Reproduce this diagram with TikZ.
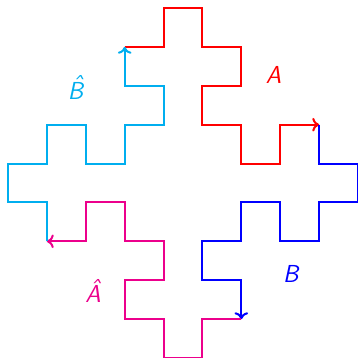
\documentclass[tikz,border=0pt]{standalone}
\usetikzlibrary{arrows.meta}
\definecolor{crvRed}{HTML}{FF0000}
\definecolor{crvBlue}{HTML}{0000FF}
\definecolor{crvMagenta}{HTML}{EC008C}
\definecolor{crvCyan}{HTML}{00AEEF}
\tikzset{
  crv/.style={-{To[length=5pt,width=10pt]}, line width=1.47pt, line join=miter},
  lbl/.style={anchor=base, inner sep=0pt, font=\fontsize{18}{20}\selectfont\sffamily\itshape},
}
\newcommand{\hatchar}[1]{\accent"02C6 #1}

\begin{document}
\begin{tikzpicture}
        \useasboundingbox (-0.206,0.206) rectangle (9,-9);
        % corner points where the four pieces meet
        \coordinate (pA) at (3,-1);
        \coordinate (pB) at (8,-3);
        \coordinate (pC) at (6,-8);
        \coordinate (pD) at (1,-6);
        % A
        \draw[crv,crvRed] (pA) -| (4,0) -| (5,-1) -| (6,-2) -| (5,-3) -| (6,-4) -| (7,-3) -- (pB);
        % B
        \draw[crv,crvBlue] (pB) |- (9,-4) |- (8,-5) |- (7,-6) |- (6,-5) |- (5,-6) |- (6,-7) -- (pC);
        % A hat
        \draw[crv,crvMagenta] (pC) -| (5,-9) -| (4,-8) -| (3,-7) -| (4,-6) -| (3,-5) -| (2,-6) -- (pD);
        % B hat
        \draw[crv,crvCyan] (pD) |- (0,-5) |- (1,-4) |- (2,-3) |- (3,-4) |- (4,-3) |- (3,-2) -- (pA);
        % labels
        \node[lbl,text=crvRed] (lA) at (6.83,-1.93) {A};
        \node[lbl,text=crvBlue] (lB) at (7.27,-7.06) {B};
        \node[lbl,text=crvMagenta] (lAh) at (2.19,-7.58) {\hatchar{A}};
        \node[lbl,text=crvCyan] (lBh) at (1.74,-2.35) {\hatchar{B}};
      \end{tikzpicture}
\end{document}
